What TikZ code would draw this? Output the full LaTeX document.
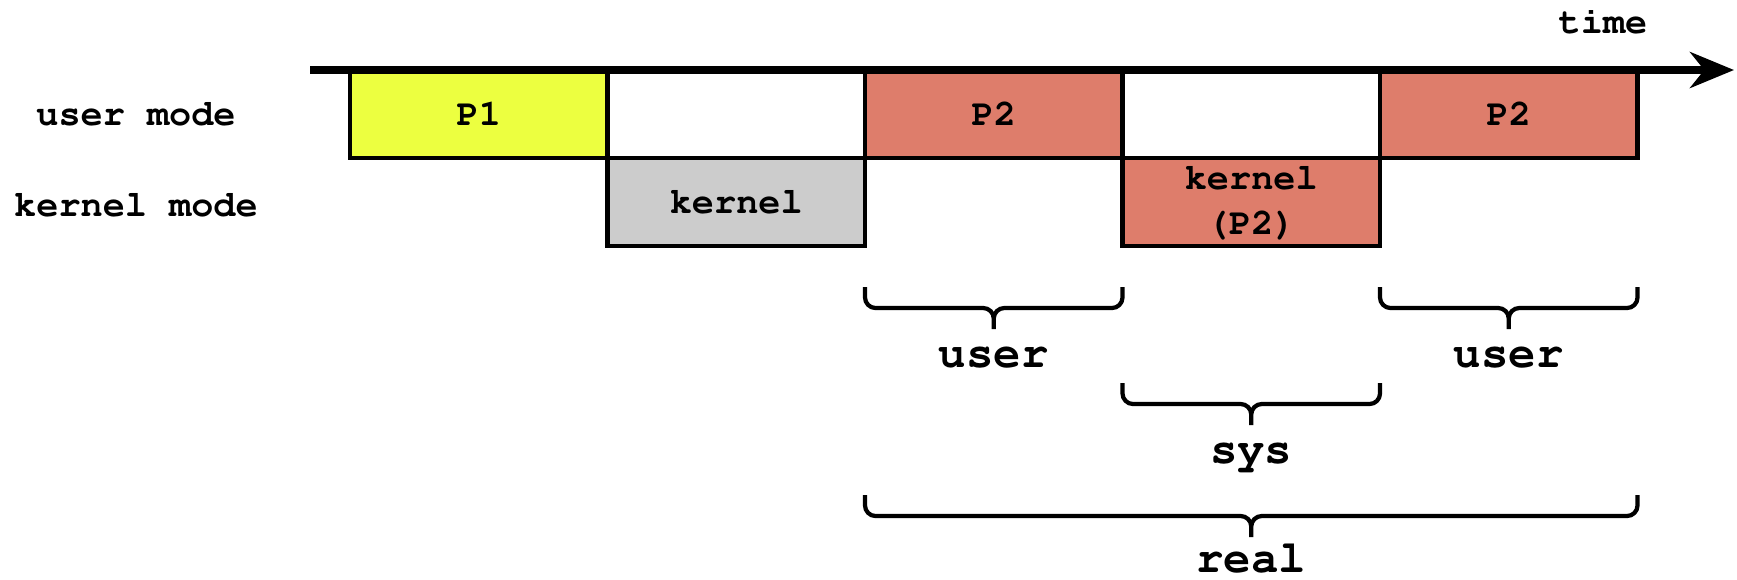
\documentclass[tikz,border=0pt]{standalone}
\usepackage[T1]{fontenc}
\renewcommand{\ttdefault}{pcr}
\usepackage{tikz}
\usetikzlibrary{arrows.meta,positioning,calc}
\definecolor{procyellow}{HTML}{ECFF40}
\definecolor{procsalmon}{HTML}{DE7D6B}
\definecolor{kernelgray}{HTML}{CCCCCC}

\begin{document}
\begin{tikzpicture}[
  slot/.style={rectangle, draw=black, line width=1.2pt, fill=#1, minimum width=2.575cm,
               minimum height=0.88cm, inner sep=0pt, outer sep=0pt, align=center,
               font=\ttfamily\bfseries\fontsize{10.5}{12.8}\selectfont},
  slot/.default=white,
  mode/.style={font=\ttfamily\bfseries\fontsize{10.5}{12.8}\selectfont},
  bracket/.style={line width=1.2pt, rounded corners=3pt,
    to path={(\tikztostart) |- ($(\tikztostart)!0.5!(\tikztotarget)+(0,-0.21)$) -- ++(0,-0.21)
             (\tikztotarget) |- ($(\tikztostart)!0.5!(\tikztotarget)+(0,-0.21)$) -- ++(0,-0.21)}},
  tlabel/.style={font=\ttfamily\bfseries\fontsize{13}{16}\selectfont, anchor=base},
  node distance=0pt,
]
  \useasboundingbox (0,0) rectangle (17.37,-5.79);

  % user mode row
  \node[slot=procyellow] (p1) at (4.7875,-1.14) {P1};
  \node[slot, right=of p1] (idle1) {};
  \node[slot=procsalmon, right=of idle1] (p2) {P2};
  \node[slot, right=of p2] (idle2) {};
  \node[slot=procsalmon, right=of idle2] (p2b) {P2};

  % kernel mode row
  \node[slot=kernelgray, below=of idle1] (k1) {kernel};
  \node[slot=procsalmon, below=of idle2] (k2) {kernel\\(P2)};

  % time axis
  \coordinate (t0) at (3.10,-0.70);
  \coordinate (t1) at (17.34,-0.70);
  \draw[line width=2pt, -{Stealth[length=0.44cm, width=0.36cm]}] (t0) -- (t1);
  \node[mode, anchor=base] (time) at (16.03,-0.33) {time};

  \node[mode] (umode) at (1.36,-1.14) {user mode};
  \node[mode] (kmode) at (1.36,-2.05) {kernel mode};

  % what time(1) reports
  \draw[bracket] (p2.west |- 0,-2.87) to (p2.east |- 0,-2.87);
  \node[tlabel] (u1) at (p2 |- 0,-3.67) {user};
  \draw[bracket] (p2b.west |- 0,-2.87) to (p2b.east |- 0,-2.87);
  \node[tlabel] (u2) at (p2b |- 0,-3.67) {user};
  \draw[bracket] (k2.west |- 0,-3.83) to (k2.east |- 0,-3.83);
  \node[tlabel] (sys) at (k2 |- 0,-4.63) {sys};
  \draw[bracket] (p2.west |- 0,-4.95) to (p2b.east |- 0,-4.95);
  \node[tlabel] (real) at (k2 |- 0,-5.72) {real};
\end{tikzpicture}
\end{document}
